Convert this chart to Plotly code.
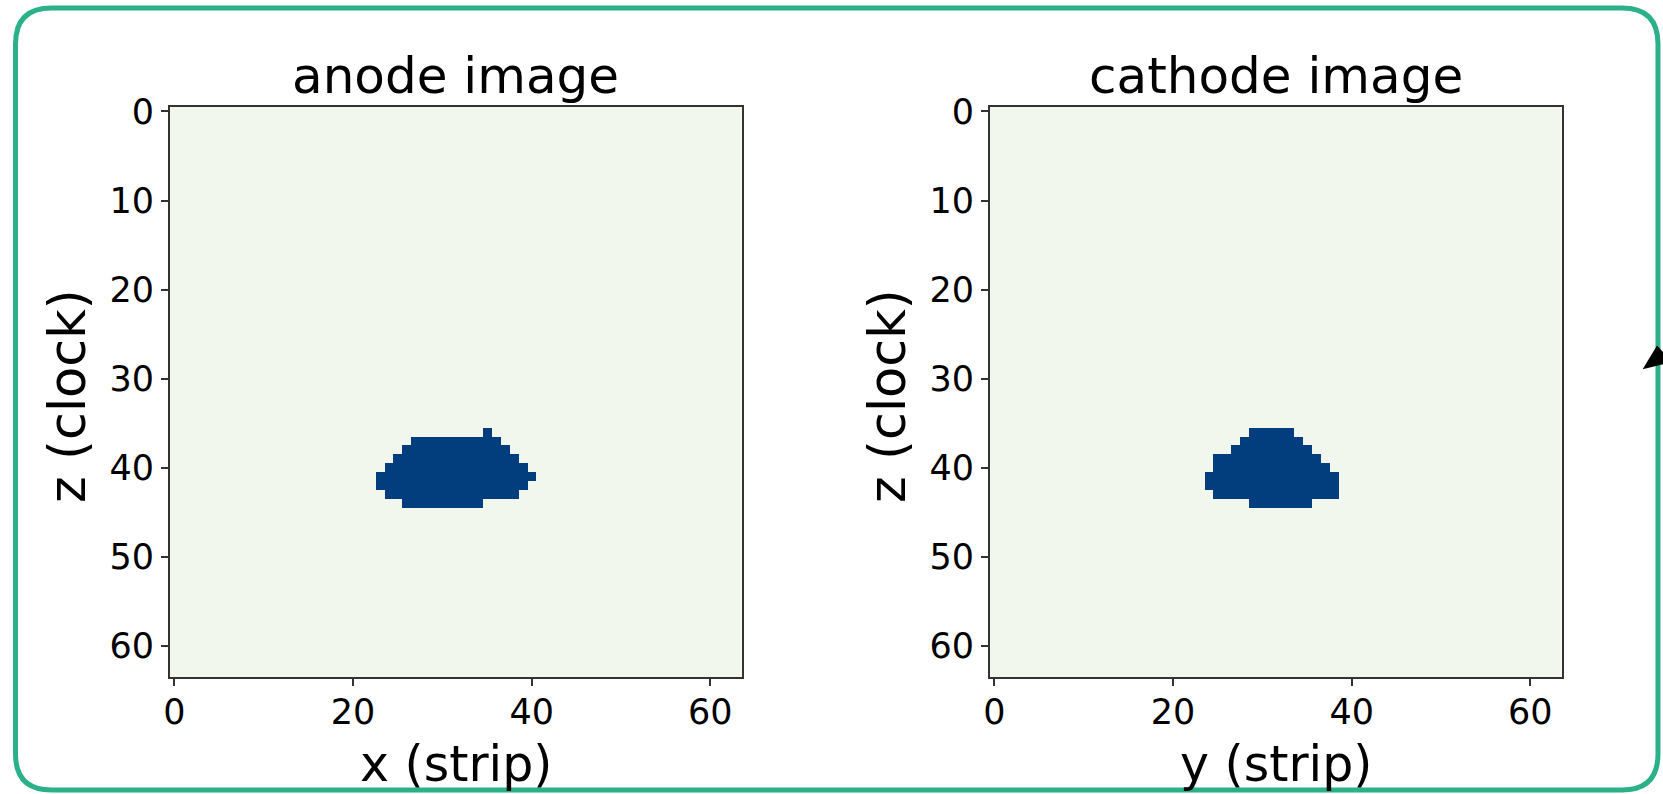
import numpy as np
import plotly.graph_objects as go

W, H = 1663, 794
N = 64

# Hit footprints: for each z row (clock), first and last lit strip
anode_rows = [36, 37, 38, 39, 40, 41, 42, 43, 44]
anode_first = [35, 27, 26, 25, 24, 23, 23, 24, 26]
anode_last = [35, 36, 37, 38, 39, 40, 39, 38, 34]

cathode_rows = [36, 37, 38, 39, 40, 41, 42, 43, 44]
cathode_first = [29, 28, 27, 25, 25, 24, 24, 25, 29]
cathode_last = [33, 34, 35, 36, 37, 38, 38, 38, 35]

titles = ["anode image", "cathode image"]
xlabels = ["x (strip)", "y (strip)"]
ylabel = "z (clock)"
xticks = [0, 20, 40, 60]
yticks = [0, 10, 20, 30, 40, 50, 60]


def build_image(rows, first, last):
    img = np.zeros((N, N))
    for r, a, b in zip(rows, first, last):
        img[r, a:b + 1] = 1
    return img


images = [build_image(anode_rows, anode_first, anode_last),
          build_image(cathode_rows, cathode_first, cathode_last)]

FONT = "DejaVu Sans"
BG = "#f2f7ed"
HIT = "#023e7d"
FRAME = "#2bb08a"


def px(x):
    return x / W


def py(y):
    return 1 - y / H


# panel extents in pixels
panels = [(170, 741.5), (990, 1561.5)]
top, bottom = 107, 677

fig = go.Figure()
for i, img in enumerate(images):
    k = "" if i == 0 else str(i + 1)
    fig.add_trace(go.Heatmap(
        z=img, x=np.arange(N), y=np.arange(N),
        colorscale=[[0, BG], [1, HIT]], zmin=0, zmax=1,
        showscale=False, hoverinfo="skip",
        xaxis="x" + k, yaxis="y" + k,
    ))
    x0, x1 = panels[i]
    axcommon = dict(
        showgrid=False, zeroline=False, showline=True, mirror=True,
        linecolor="#333333", linewidth=2, ticks="outside", ticklen=7,
        tickwidth=2, tickcolor="#333333", automargin=False,
        tickfont=dict(family=FONT, size=35, color="black"),
    )
    fig.update_layout(**{
        "xaxis" + k: dict(domain=[px(x0), px(x1)], range=[-0.5, N - 0.5],
                          tickvals=xticks, anchor="y" + k,
                          ticklabelstandoff=-4, **axcommon),
        "yaxis" + k: dict(domain=[py(bottom), py(top)], range=[N - 0.5, -0.5],
                          tickvals=yticks, anchor="x" + k, **axcommon),
    })
    cx = (x0 + x1) / 2
    fig.add_annotation(text=titles[i], x=px(cx), y=py(76), xref="paper", yref="paper",
                       showarrow=False, xanchor="center", yanchor="middle",
                       font=dict(family=FONT, size=50, color="black"))
    fig.add_annotation(text=xlabels[i], x=px(cx), y=py(764), xref="paper", yref="paper",
                       showarrow=False, xanchor="center", yanchor="middle",
                       font=dict(family=FONT, size=49, color="black"))
    fig.add_annotation(text=ylabel, x=px(x0 - 103), y=py((top + bottom) / 2 + 4),
                       xref="paper", yref="paper", textangle=-90,
                       showarrow=False, xanchor="center", yanchor="middle",
                       font=dict(family=FONT, size=51, color="black"))


def rounded_rect(l, t, r, b, rad):
    pts = [
        ("M", l + rad, t), ("L", r - rad, t), ("Q", r, t, r, t + rad),
        ("L", r, b - rad), ("Q", r, b, r - rad, b), ("L", l + rad, b),
        ("Q", l, b, l, b - rad), ("L", l, t + rad), ("Q", l, t, l + rad, t),
    ]
    out = []
    for p in pts:
        cmd, vals = p[0], p[1:]
        coords = []
        for j in range(0, len(vals), 2):
            coords.append(f"{px(vals[j]):.5f},{py(vals[j + 1]):.5f}")
        out.append(cmd + " " + " ".join(coords))
    return " ".join(out) + " Z"


fig.add_shape(type="path", xref="paper", yref="paper",
              path=rounded_rect(15.5, 8, 1658, 790, 36),
              line=dict(color=FRAME, width=5), fillcolor="rgba(0,0,0,0)")

# partial arrowhead at the right edge
tri = [(1642.7, 369.3), (1657, 345.5), (1672, 362)]
fig.add_shape(type="path", xref="paper", yref="paper",
              path="M " + " L ".join(f"{px(a):.5f},{py(b):.5f}" for a, b in tri) + " Z",
              line=dict(color="black", width=0), fillcolor="black")

fig.update_layout(
    width=W, height=H,
    margin=dict(l=0, r=0, t=0, b=0, pad=0, autoexpand=False),
    paper_bgcolor="white", plot_bgcolor="white", showlegend=False,
)

fig.write_html("out.html")
